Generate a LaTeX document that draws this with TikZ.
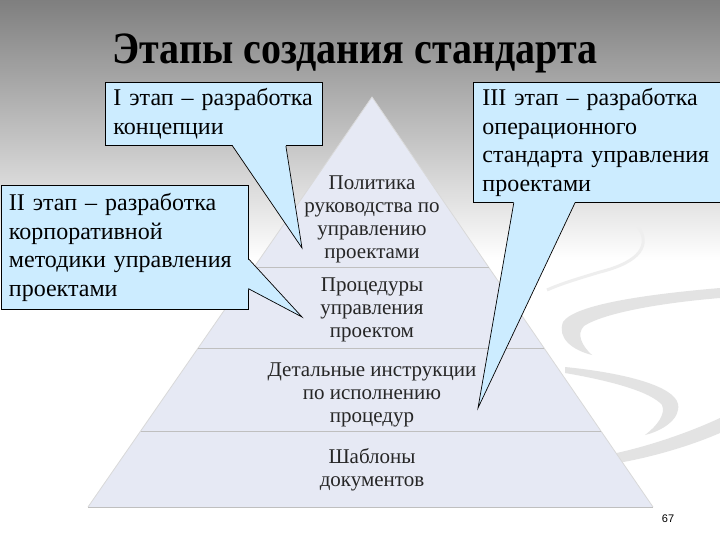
\documentclass[tikz,border=0pt]{standalone}
\usepackage{fontspec}
\setmainfont{Liberation Serif}
\newfontfamily\numfont{Liberation Sans}
\usetikzlibrary{calc}

\definecolor{calloutblue}{HTML}{CCECFF}
\definecolor{pyrfill}{HTML}{E6E9F4}
\definecolor{bgtop}{HTML}{7F7F7F}
\definecolor{swoosh}{HTML}{E3E3E3}

\tikzset{
  stagebox/.style={draw=black, line width=0.9pt, fill=calloutblue, anchor=north west,
    inner xsep=8pt, inner ysep=0pt, align=left, font=\fontsize{24}{28.7}\selectfont},
  levellabel/.style={align=center, font=\fontsize{21}{23}\selectfont, text=black!85},
  sepline/.style={draw=gray!50, line width=0.8pt},
  pointer/.style={draw=black, line width=0.7pt},
}

\begin{document}
\begin{tikzpicture}[x=1pt,y=-1pt]
        \useasboundingbox (0,0) rectangle (720,540);
        \fill[white] (0,0) rectangle (720,540);
        \shade[top color=bgtop, bottom color=white] (0,0) rectangle (720,260);

        % swoosh behind the pyramid
        \draw[swoosh!60, line width=3pt] (637,225) .. controls (652,245) and (640,262) .. (600,272) .. controls (580,278) and (560,284) .. (547,290);
        \fill[swoosh] (720,288) .. controls (650,294) and (575,304) .. (563,322) .. controls (557,338) and (572,350) .. (592,355)
            .. controls (582,346) and (576,334) .. (584,326) .. controls (604,313) and (660,303) .. (720,298) -- cycle;
        \fill[swoosh] (565,367) .. controls (625,373) and (674,386) .. (678,404) .. controls (681,419) and (662,431) .. (645,435)
            .. controls (657,426) and (666,414) .. (662,405) .. controls (651,392) and (612,381) .. (565,373) -- cycle;
        \fill[swoosh] (612,454) .. controls (650,446) and (690,432) .. (720,418) -- (720,433) .. controls (690,446) and (650,458) .. (612,464) -- cycle;

        \coordinate (top) at (372,97);
        \coordinate (bl) at (88,507);
        \coordinate (br) at (653,507);
        \fill[pyrfill] (top) -- (bl) -- (br) -- cycle;
        \draw[gray!30, line width=0.8pt] (bl) -- (top) -- (br);
        \foreach \f in {0.4146,0.612,0.8146,1}{
            \draw[sepline] ($(top)!\f!(bl)$) -- ($(top)!\f!(br)$);
        }

        \node[levellabel] (lv1) at (372,219) {Политика\\руководства по\\управлению\\проектами};
        \node[levellabel] (lv2) at (372,310) {Процедуры\\управления\\проектом};
        \node[levellabel] (lv3) at (372,394.5) {Детальные инструкции\\по исполнению\\процедур};
        \node[levellabel] (lv4) at (372,470) {Шаблоны\\документов};

        \node[font=\fontsize{40}{48}\selectfont\bfseries] (ttl) at (355,53) {\scalebox{1}[1.12]{Этапы создания стандарта}};

        \node[stagebox, text width=201pt, minimum height=63pt] (st1) at (105,82)
            {I этап – разработка\\концепции};
        \node[stagebox, text width=231pt, minimum height=124pt] (st2) at (0.5,185)
            {II этап – разработка\\корпоративной\\методики управления\\проектами};
        \node[stagebox, text width=236pt, minimum height=120pt, inner xsep=9pt] (st3) at (473,82)
            {III этап – разработка\\операционного\\стандарта управления\\проектами};

        \coordinate (t1) at (302,248);
        \coordinate (t2) at (302,317);
        \coordinate (t3) at (478,408);

        \coordinate (p1a) at ($(st1.south west)!0.585!(st1.south east)$);
        \coordinate (p1b) at ($(st1.south west)!0.83!(st1.south east)$);
        \fill[calloutblue] ([yshift=1pt]p1a) -- (t1) -- ([yshift=1pt]p1b) -- cycle;
        \draw[pointer] (p1a) -- (t1) -- (p1b);

        \coordinate (p2a) at ($(st2.north east)!0.59!(st2.south east)$);
        \coordinate (p2b) at ($(st2.north east)!0.83!(st2.south east)$);
        \fill[calloutblue] ([xshift=-1pt]p2a) -- (t2) -- ([xshift=-1pt]p2b) -- cycle;
        \draw[pointer] (p2a) -- (t2) -- (p2b);

        \coordinate (p3a) at ($(st3.south west)!0.16!(st3.south east)$);
        \coordinate (p3b) at ($(st3.south west)!0.40!(st3.south east)$);
        \fill[calloutblue] ([yshift=1pt]p3a) -- (t3) -- ([yshift=1pt]p3b) -- cycle;
        \draw[pointer] (p3a) -- (t3) -- (p3b);

        \node[font=\numfont\fontsize{11}{13}\selectfont] (pgno) at (668,519) {67};
\end{tikzpicture}
\end{document}
